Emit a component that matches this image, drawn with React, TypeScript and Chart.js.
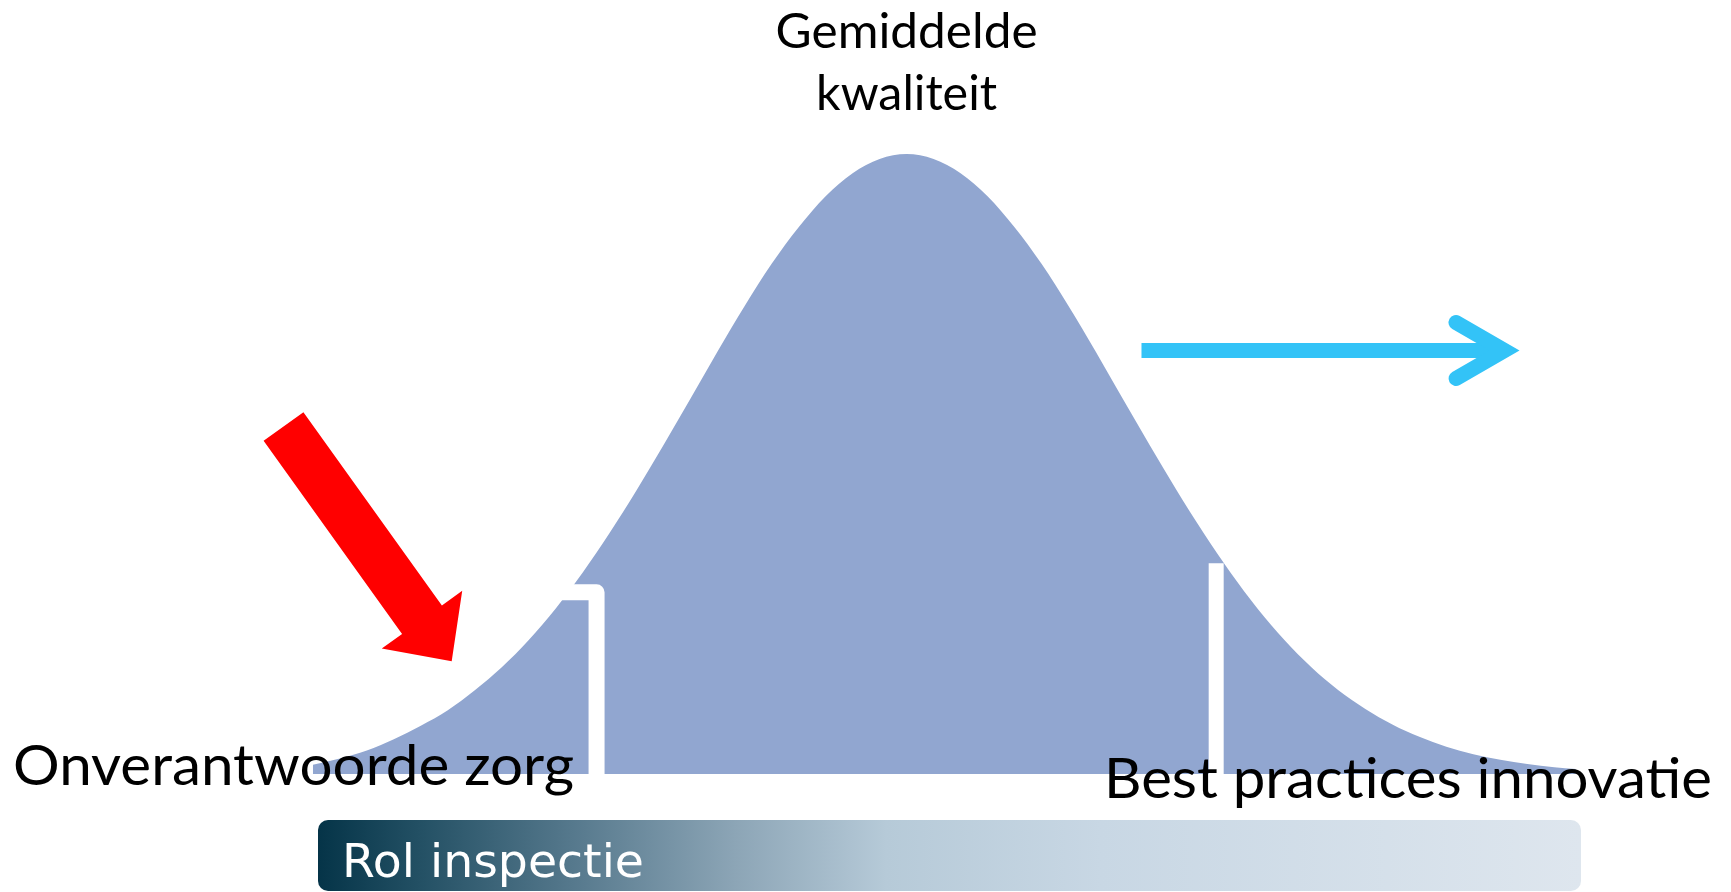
import React, { useEffect, useRef } from "react";
import { Chart, registerables } from "chart.js";

Chart.register(...registerables);

const W = 1731;
const H = 892;

// Quality (in standard deviations from the average) and relative share of care providers
const qualityX = [
  -2.75, -2.625, -2.5, -2.375, -2.25, -2.125, -2, -1.875, -1.75, -1.625, -1.5, -1.375, -1.25, -1.125, -1,
  -0.875, -0.75, -0.625, -0.5, -0.375, -0.25, -0.125, 0, 0.125, 0.25, 0.375, 0.5, 0.625, 0.75, 0.875,
  1, 1.125, 1.25, 1.375, 1.5, 1.625, 1.75, 1.875, 2, 2.125, 2.25, 2.375, 2.5, 2.625, 2.75, 2.875, 3, 3.1,
];
const share = [
  0.015, 0.025, 0.038, 0.056, 0.078, 0.103, 0.135, 0.172, 0.216, 0.267, 0.325, 0.389, 0.458, 0.531, 0.606,
  0.682, 0.755, 0.823, 0.882, 0.932, 0.969, 0.992, 1.0, 0.992, 0.969, 0.932, 0.882, 0.823, 0.755, 0.682,
  0.606, 0.531, 0.458, 0.389, 0.325, 0.267, 0.216, 0.172, 0.135, 0.105, 0.08, 0.06, 0.044, 0.032, 0.023, 0.016, 0.011, 0.008,
];

// Threshold markers (white bars)
const lowerBracketX = [-1.63, -1.436, -1.436];
const lowerBracketY = [0.293, 0.293, 0];
const upperBarX = [1.434, 1.434];
const upperBarY = [0.34, 0];

// Arrow anchors (data space): [quality, share]
const redArrowFrom = [-2.886, 0.5605];
const redArrowTo = [-2.107, 0.182];
const blueArrowFrom = [1.088, 0.683];
const blueArrowTo = [2.839, 0.683];

// Texts
const topLabel = ["Gemiddelde", "kwaliteit"];
const lowLabel = "Onverantwoorde zorg";
const highLabel = "Best practices innovatie";
const bandLabel = "Rol inspectie";

const CURVE_FILL = "rgb(145,166,208)";

function fitText(
  ctx: CanvasRenderingContext2D,
  text: string,
  x: number,
  y: number,
  width: number,
  font: string,
  color: string,
  align: "left" | "center"
) {
  ctx.save();
  ctx.font = font;
  ctx.fillStyle = color;
  ctx.textBaseline = "alphabetic";
  ctx.textAlign = align;
  const w = ctx.measureText(text).width;
  const sx = width / w;
  ctx.translate(x, y);
  ctx.scale(sx, 1);
  ctx.fillText(text, 0, 0);
  ctx.restore();
}

const annotations = {
  id: "annotations",
  afterDatasetsDraw(chart: any) {
    const { ctx, scales } = chart;
    const xs = scales.x;
    const ys = scales.y;
    const px = (v: number) => xs.getPixelForValue(v);
    const py = (v: number) => ys.getPixelForValue(v);

    ctx.save();

    // Red arrow
    {
      const tx = px(redArrowFrom[0]);
      const ty = py(redArrowFrom[1]);
      const hx = px(redArrowTo[0]);
      const hy = py(redArrowTo[1]);
      const len = Math.hypot(hx - tx, hy - ty);
      const dx = (hx - tx) / len;
      const dy = (hy - ty) / len;
      const nx = -dy;
      const ny = dx;
      const headLen = 51;
      const shaftHalf = 24.5;
      const headHalf = 49.5;
      const bx = hx - dx * headLen;
      const by = hy - dy * headLen;
      ctx.beginPath();
      ctx.moveTo(tx + nx * shaftHalf, ty + ny * shaftHalf);
      ctx.lineTo(bx + nx * shaftHalf, by + ny * shaftHalf);
      ctx.lineTo(bx + nx * headHalf, by + ny * headHalf);
      ctx.lineTo(hx, hy);
      ctx.lineTo(bx - nx * headHalf, by - ny * headHalf);
      ctx.lineTo(bx - nx * shaftHalf, by - ny * shaftHalf);
      ctx.lineTo(tx - nx * shaftHalf, ty - ny * shaftHalf);
      ctx.closePath();
      ctx.fillStyle = "#ff0000";
      ctx.fill();
    }

    // Cyan arrow
    {
      const tx = px(blueArrowFrom[0]);
      const y0 = py(blueArrowFrom[1]);
      const tip = px(blueArrowTo[0]);
      const lw = 15;
      const vx = tip - 15;
      ctx.strokeStyle = "#33c3f7";
      ctx.lineWidth = lw;
      ctx.lineCap = "butt";
      ctx.beginPath();
      ctx.moveTo(tx, y0);
      ctx.lineTo(vx, y0);
      ctx.stroke();
      ctx.lineCap = "round";
      ctx.lineJoin = "miter";
      ctx.miterLimit = 10;
      ctx.beginPath();
      ctx.moveTo(vx - 48.5, y0 - 28);
      ctx.lineTo(vx, y0);
      ctx.lineTo(vx - 48.5, y0 + 28);
      ctx.stroke();
    }

    // Top label, centred on the average
    const cx = px(0);
    fitText(ctx, topLabel[0], cx, 48, 262, "48px Lato", "#000", "center");
    fitText(ctx, topLabel[1], cx, 110, 181, "48px Lato", "#000", "center");

    // Bottom labels
    fitText(ctx, lowLabel, 13, 785, 561, "57px Lato", "#000", "left");
    fitText(ctx, highLabel, 1104, 798, 608, "57px Lato", "#000", "left");

    // Gradient band
    const bx0 = 318;
    const bx1 = 1581;
    const grad = ctx.createLinearGradient(bx0, 0, bx1, 0);
    grad.addColorStop(0, "rgb(5,52,72)");
    grad.addColorStop(0.08, "rgb(35,80,100)");
    grad.addColorStop(0.2, "rgb(85,120,140)");
    grad.addColorStop(0.33, "rgb(140,165,182)");
    grad.addColorStop(0.45, "rgb(182,202,216)");
    grad.addColorStop(0.62, "rgb(200,215,228)");
    grad.addColorStop(1, "rgb(222,230,238)");
    ctx.fillStyle = grad;
    ctx.beginPath();
    (ctx as any).roundRect(bx0, 820, bx1 - bx0, 71, 10);
    ctx.fill();
    fitText(ctx, bandLabel, 342, 877, 302, "47px 'DejaVu Sans'", "#ffffff", "left");

    ctx.restore();
  },
};

export default function App() {
  const ref = useRef<HTMLCanvasElement>(null);

  useEffect(() => {
    const canvas = ref.current!;
    const chart = new Chart(canvas, {
      type: "line",
      data: {
        datasets: [
          {
            label: "Kwaliteit",
            data: qualityX.map((q, i) => ({ x: q, y: share[i] })),
            fill: "origin",
            backgroundColor: CURVE_FILL,
            borderColor: CURVE_FILL,
            borderWidth: 0,
            pointRadius: 0,
            cubicInterpolationMode: "monotone",
            order: 3,
          },
          {
            label: "Ondergrens",
            data: lowerBracketX.map((q, i) => ({ x: q, y: lowerBracketY[i] })),
            fill: false,
            borderColor: "#ffffff",
            borderWidth: 16,
            borderJoinStyle: "round",
            borderCapStyle: "butt",
            pointRadius: 0,
            tension: 0,
            order: 1,
          },
          {
            label: "Bovengrens",
            data: upperBarX.map((q, i) => ({ x: q, y: upperBarY[i] })),
            fill: false,
            borderColor: "#ffffff",
            borderWidth: 15,
            borderCapStyle: "butt",
            pointRadius: 0,
            tension: 0,
            order: 1,
          },
        ],
      } as any,
      options: {
        responsive: false,
        animation: false,
        devicePixelRatio: 1,
        layout: { padding: { left: 43, right: 4, top: 30, bottom: 118 } },
        scales: {
          x: { type: "linear", min: -4, max: 3.8, display: false },
          y: { type: "linear", min: 0, max: 1.2, display: false },
        },
        plugins: {
          legend: { display: false },
          tooltip: { enabled: false },
        },
      } as any,
      plugins: [annotations as any],
    });
    return () => chart.destroy();
  }, []);

  return (
    <div style={{ position: "fixed", left: 0, top: 0, width: W, height: H, background: "#ffffff" }}>
      <canvas ref={ref} width={W} height={H} style={{ display: "block", width: W, height: H }} />
    </div>
  );
}
